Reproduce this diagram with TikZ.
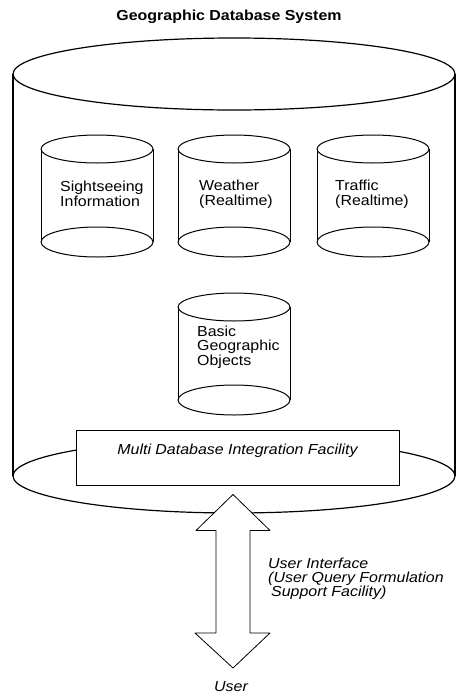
\documentclass[tikz,border=0pt]{standalone}
\usepackage{fontspec}
\setmainfont{Liberation Sans}[FakeStretch=1.1]
\usetikzlibrary{positioning, calc}

\begin{document}
\begin{tikzpicture}[x=1pt,y=1pt,line join=round]
        \tikzstyle{txt}=[inner sep=0pt,align=left,font=\fontsize{14.5}{14.5}\selectfont]
        \tikzstyle{itxt}=[txt,font=\fontsize{14.5}{14}\selectfont\itshape]
        \tikzstyle{drum}=[line width=1pt]
        \tikzstyle{facility}=[rectangle,draw,fill=white,line width=1pt,minimum width=323pt,minimum height=55pt,inner sep=0pt,text height=10.5pt,text depth=17.5pt]
        \useasboundingbox (0,0) rectangle (457,-697);
        \node[txt,font=\fontsize{14.5}{14.5}\selectfont\bfseries] (title) at (229,-17) {Geographic Database System};
        % outer cylinder
        \draw[line width=1.2pt] (234,-74) ellipse (221 and 36);
        \draw[line width=1.2pt] (13,-74) -- (13,-476) (455,-74) -- (455,-476);
        \draw[line width=1.2pt] (234,-476) ellipse (221 and 37);
        % inner cylinders
        \foreach \cx/\cy in {97/149, 234/149, 373/149, 234/307} {
            \draw[drum] (\cx,-\cy) ellipse (56 and 14);
            \draw[drum] (\cx,-\cy-93) ellipse (56 and 15);
            \draw[drum] (\cx-56,-\cy) -- (\cx-56,-\cy-93) (\cx+56,-\cy) -- (\cx+56,-\cy-93);
        }
        \node[txt,anchor=west] (sight) at (60,-194) {Sightseeing\\Information};
        \node[txt,anchor=west] (weather) at (199,-194) {Weather\\(Realtime)};
        \node[txt,anchor=west] (traffic) at (335,-194) {Traffic\\(Realtime)};
        \node[txt,anchor=west] (basic) at (197,-347) {Basic\\Geographic\\Objects};
        \node[facility,font=\fontsize{14.5}{14.5}\selectfont\itshape] (mdbif) at (237.5,-457.5) {Multi Database Integration Facility};
        \node[itxt] (user) at (231,-687) {User};
        % user interface arrow
        \coordinate (up) at ($(mdbif.south)+(-4.5,-9)$);
        \coordinate (down) at (233,-668);
        \draw[fill=white,line width=0.8pt] (up) -- ++(-37,-36) -- ++(20,0) -- ($(down)+(-17,35)$) -- ++(-21,0)
            -- (down) -- ++(37,35) -- ++(-20,0) -- ($(up)+(17,-36)$) -- ++(20,0) -- cycle;
        \node[itxt,anchor=west] (ui) at (268,-579) {User Interface\\(User Query Formulation\\\hspace{3pt}Support Facility)};
\end{tikzpicture}
\end{document}
